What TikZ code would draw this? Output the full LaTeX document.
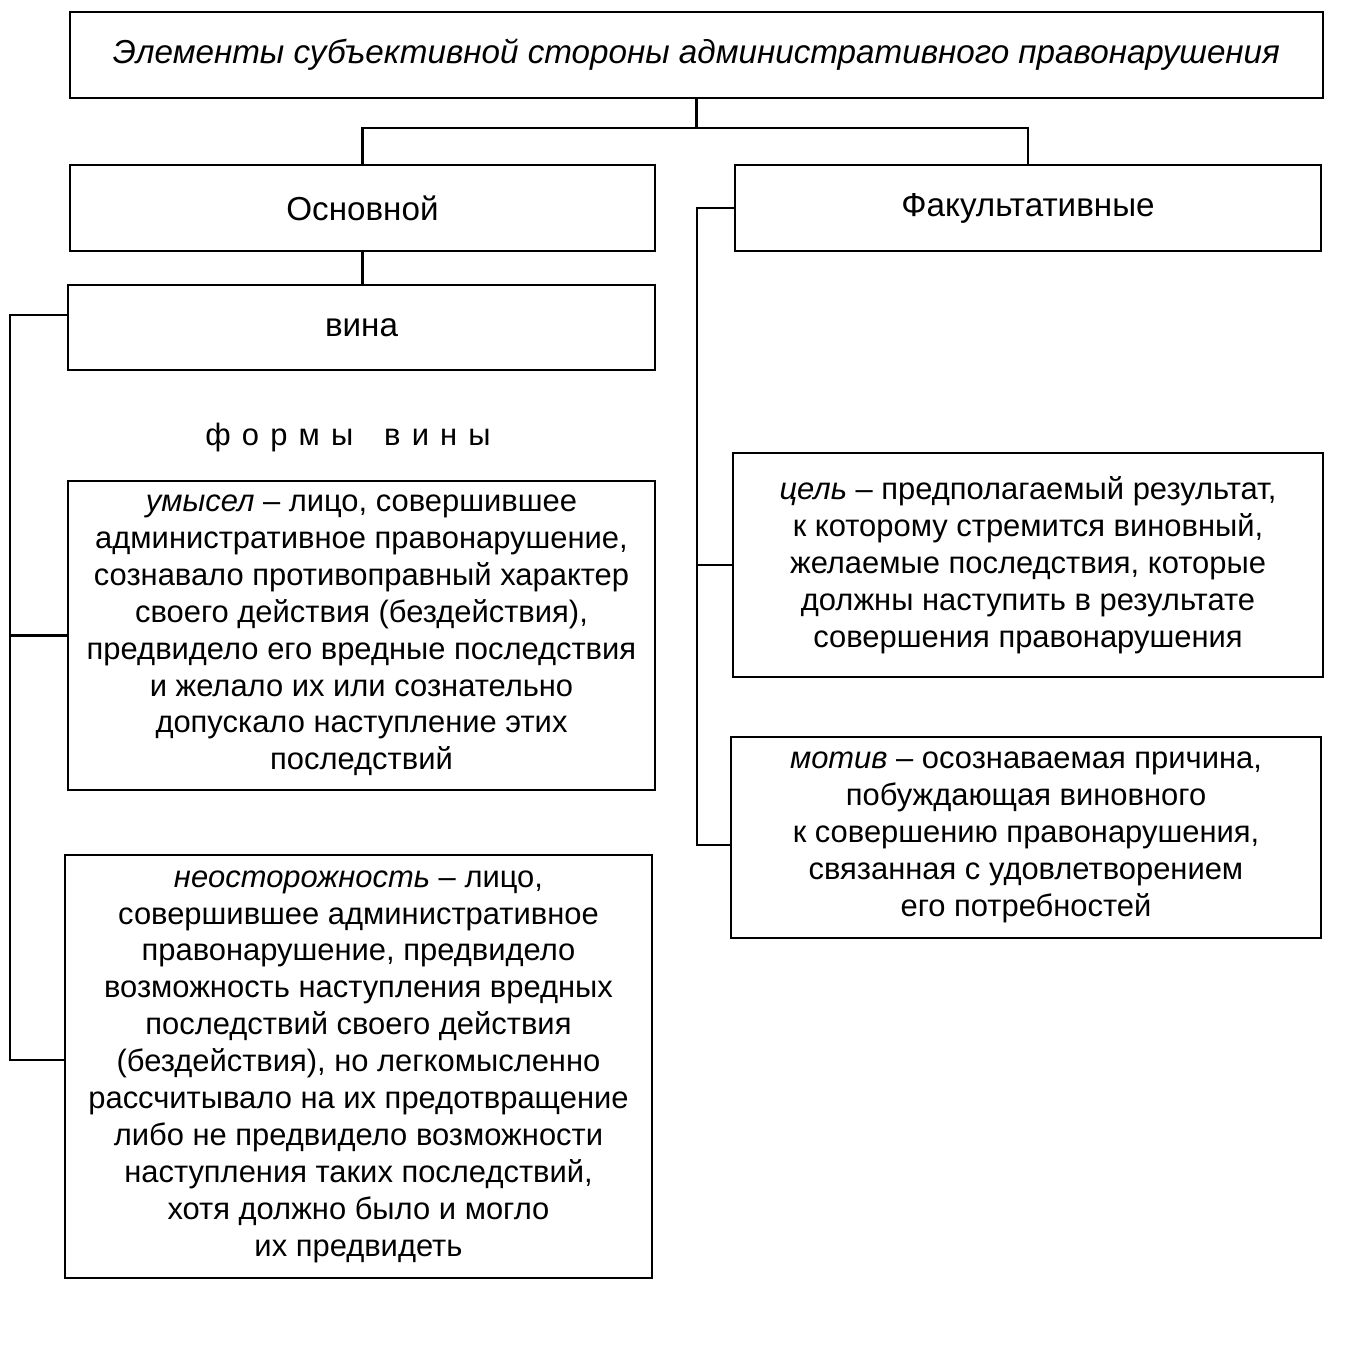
\documentclass[tikz,border=0pt]{standalone}
\usepackage{fontspec}
\setmainfont{Liberation Sans}
\usetikzlibrary{positioning}

\begin{document}
\begin{tikzpicture}[
  x=0.02cm, y=-0.02cm,
  box/.style={draw, line width=1.3pt, align=center, inner sep=2pt,
    font=\fontsize{17.6}{21}\selectfont},
  head/.style={box, font=\fontsize{18.9}{22}\selectfont},
  wire/.style={line width=1.2pt}]
\useasboundingbox (0,0) rectangle (1346,1346);
% top row
\node[head, minimum width=25.06cm, minimum height=1.72cm, font=\fontsize{18.9}{22}\selectfont\itshape]
  (title) at (696.5,55) {Элементы субъективной стороны административного правонарушения};
\node[head, minimum width=11.7cm, minimum height=1.72cm] (osn) at (362.5,208) {Основной};
\node[head, minimum width=11.72cm, minimum height=1.72cm] (fak) at (1028,208) {Факультативные};
% left branch
\node[head, minimum width=11.74cm, minimum height=1.7cm, text depth=-9pt] (vina) at (361.5,327.5) {вина};
\node[font=\fontsize{17.6}{21}\selectfont\addfontfeature{LetterSpace=36}] (formy) at (348,437) {формы\quad вины};
\node[box, minimum width=11.74cm, minimum height=6.18cm] (umysel) at (361.5,635.5)
  {\textit{умысел} – лицо, совершившее\\административное правонарушение,\\сознавало противоправный характер\\своего действия (бездействия),\\предвидело его вредные последствия\\и желало их или сознательно\\допускало наступление этих\\последствий};
\node[box, minimum width=11.74cm, minimum height=8.46cm] (neost) at (358.5,1066.5)
  {\textit{неосторожность} – лицо,\\совершившее административное\\правонарушение, предвидело\\возможность наступления вредных\\последствий своего действия\\(бездействия), но легкомысленно\\рассчитывало на их предотвращение\\либо не предвидело возможности\\наступления таких последствий,\\хотя должно было и могло\\их предвидеть};
% right branch
\node[box, minimum width=11.8cm, minimum height=4.48cm] (cel) at (1028,565)
  {\textit{цель} – предполагаемый результат,\\к которому стремится виновный,\\желаемые последствия, которые\\должны наступить в результате\\совершения правонарушения};
\node[box, minimum width=11.8cm, minimum height=4.02cm] (motiv) at (1026,837.5)
  {\textit{мотив} – осознаваемая причина,\\побуждающая виновного\\к совершению правонарушения,\\связанная с удовлетворением\\его потребностей};
% connectors
\coordinate (tj) at (696.5,128);
\draw[wire] (title.south) -- (tj);
\draw[wire] (osn.north) |- (tj) -| (fak.north);
\draw[wire] (osn.south) -- (vina.north -| osn.south);
\coordinate (lt) at (10,315);
\coordinate (lb) at (10,1060);
\draw[wire] (vina.west |- lt) -- (lt) -- (lb) -- (neost.west |- lb);
\draw[wire] (umysel.west) -- (umysel.west -| lt);
\coordinate (rt) at (697,208);
\coordinate (rb) at (697,845);
\draw[wire] (fak.west) -- (rt) -- (rb) -- (motiv.west |- rb);
\draw[wire] (cel.west) -- (cel.west -| rt);
\end{tikzpicture}
\end{document}
